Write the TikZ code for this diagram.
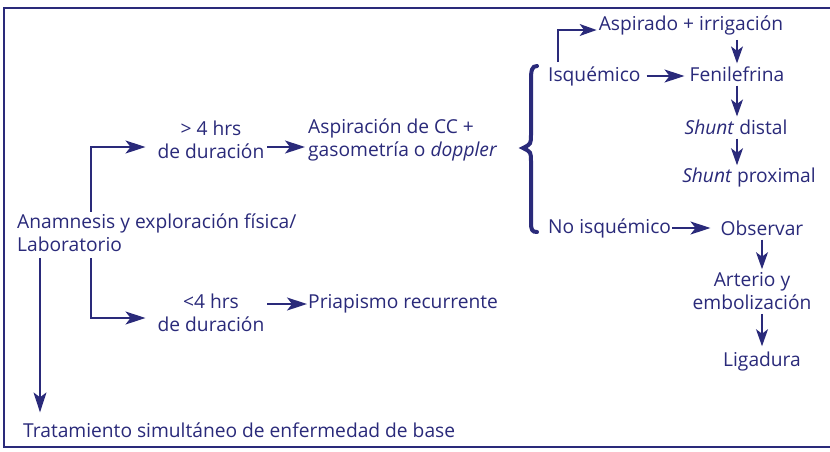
\documentclass[tikz,border=0pt]{standalone}
\usepackage{fontspec}
\setmainfont{Open Sans}
\usetikzlibrary{arrows.meta,calc}
\definecolor{navy}{RGB}{42,42,122}
\tikzset{
  txt/.style={inner sep=0pt, text=navy, font=\fontsize{19.2}{23}\selectfont},
  arr/.style={draw=navy, line width=1.3pt, -{Stealth[length=20pt,width=13pt,inset=5pt]}},
  arrs/.style={draw=navy, line width=1.3pt, -{Stealth[length=17pt,width=12pt,inset=4.5pt]}},
}
\begin{document}
\begin{tikzpicture}[x=1pt,y=-1pt]
\useasboundingbox (0,0) rectangle (830,451);
\fill[white] (0,0) rectangle (830,451);
% frame
\draw[navy, line width=2pt] (830,8) -- (4,8) -- (4,447) -- (830,447);

% nodes
\node[txt, anchor=west, align=left] (anam) at (17,233) {Anamnesis y exploración física/\\Laboratorio};
\node[txt, align=center] (gt4) at (211,140) {> 4 hrs\\de duración};
\node[txt, align=center] (lt4) at (211,313) {<4 hrs\\de duración};
\node[txt, anchor=west, align=left] (aspcc) at (308,140) {Aspiración de CC +\\gasometría o \textit{doppler}};
\node[txt, anchor=west] (pri) at (308,304) {Priapismo recurrente};
\node[txt, anchor=west] (trat) at (23,430) {Tratamiento simultáneo de enfermedad de base};
\node[txt] (asp) at (691,25) {Aspirado + irrigación};
\node[txt, anchor=west] (isq) at (548,76) {Isquémico};
\node[txt] (fen) at (737,74) {Fenilefrina};
\node[txt] (sd) at (736,127) {\textit{Shunt} distal};
\node[txt] (sp) at (749,178) {\textit{Shunt} proximal};
\node[txt, anchor=west] (noisq) at (548,228) {No isquémico};
\node[txt] (obs) at (762,228) {Observar};
\node[txt, align=center] (art) at (752,291) {Arterio y\\embolización};
\node[txt] (lig) at (762,362) {Ligadura};

% brace
\draw[navy, line width=4pt, line cap=round]
  (537,66) .. controls (532,66) and (531,70) .. (531,80)
  -- (531,134) .. controls (531,144) .. (523,148)
  .. controls (531,152) .. (531,162)
  -- (531,222) .. controls (531,230) and (532,232) .. (537,232);

% connectors
\draw[arr] ([xshift=74pt,yshift=2pt]anam.north west) |- ([xshift=-12pt,yshift=-7pt]gt4.west);
\draw[arr] ([xshift=74pt,yshift=-6pt]anam.south west) |- ([xshift=-12pt,yshift=-5pt]lt4.west);
\draw[arr] ([xshift=23pt,yshift=-6pt]anam.south west) -- ([xshift=17pt,yshift=10pt]trat.north west);
\draw[arr, shorten <=3pt, shorten >=3pt] ([yshift=-7pt]gt4.east) -- ([yshift=-7pt]gt4.east -| aspcc.west);
\draw[arr, shorten <=3pt, shorten >=1pt] (lt4.east |- pri.west) -- (pri.west);

\draw[arrs] ([xshift=10pt,yshift=4pt]isq.north west) |- ([xshift=-2pt,yshift=-5pt]asp.west);
\draw[arr, shorten <=6pt, shorten >=5pt] (isq.east) -- (isq.east -| fen.west);
\draw[arrs, shorten <=5pt, shorten >=3pt] (fen.north |- asp.south) -- (fen.north);
\draw[arrs, shorten <=4pt, shorten >=3pt] (fen.south) -- (fen.south |- sd.north);
\draw[arrs, shorten <=4pt, shorten >=3pt] (fen.south |- sd.south) -- (fen.south |- sp.north);
\draw[arr, shorten <=1pt, shorten >=10pt] (noisq.east) -- (noisq.east -| obs.west);
\draw[arrs, shorten <=4pt, shorten >=3pt] (obs.south) -- (obs.south |- art.north);
\draw[arrs, shorten <=4pt, shorten >=6pt] (lig.north |- art.south) -- (lig.north);
\end{tikzpicture}
\end{document}
